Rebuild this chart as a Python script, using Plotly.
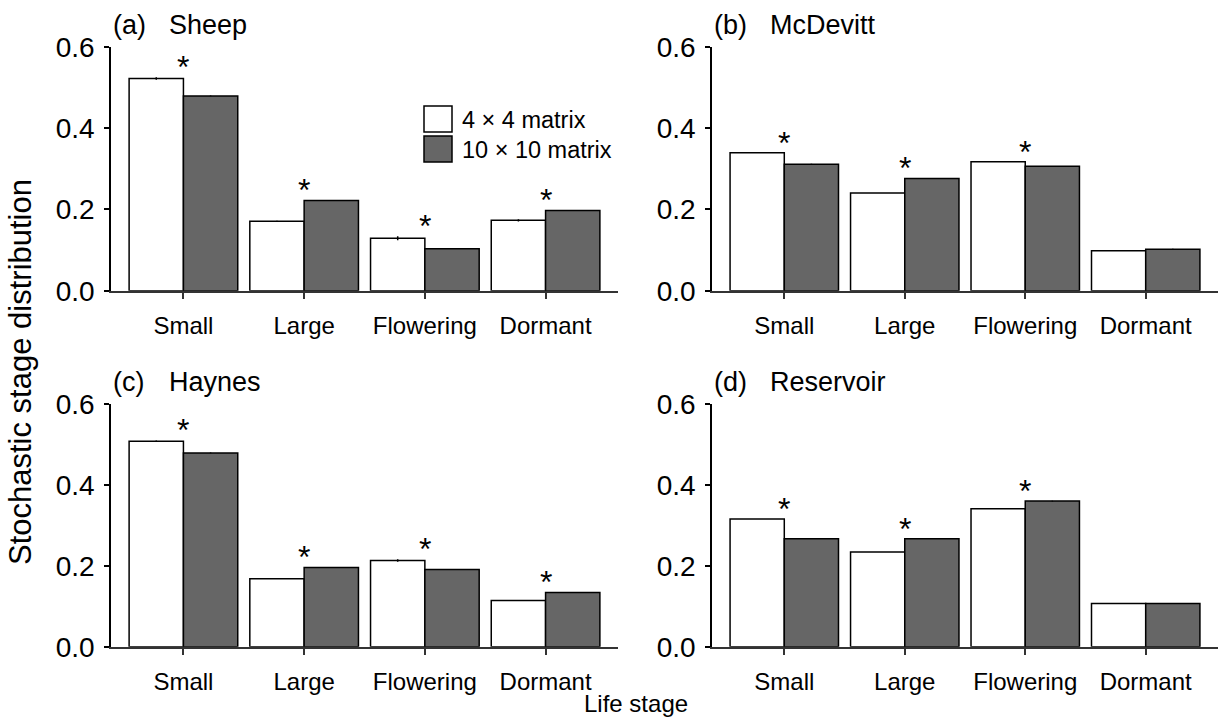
import plotly.graph_objects as go

W, H = 1219, 718

stages = ["Small", "Large", "Flowering", "Dormant"]
series_names = ["4 × 4 matrix", "10 × 10 matrix"]

panel_letters = ["(a)", "(b)", "(c)", "(d)"]
panel_names = ["Sheep", "McDevitt", "Haynes", "Reservoir"]

sheep_4x4 = [0.522, 0.171, 0.129, 0.173]
sheep_10x10 = [0.479, 0.222, 0.103, 0.197]
sheep_4x4_err = [0.003, 0.001, 0.005, 0.003]
sheep_10x10_err = [0.001, 0.0, 0.0, 0.0]
sheep_sig = [True, True, True, True]

mcdevitt_4x4 = [0.339, 0.240, 0.317, 0.098]
mcdevitt_10x10 = [0.311, 0.276, 0.306, 0.102]
mcdevitt_4x4_err = [0.0, 0.0, 0.0, 0.0]
mcdevitt_10x10_err = [0.001, 0.0, 0.0, 0.001]
mcdevitt_sig = [True, True, True, False]

haynes_4x4 = [0.508, 0.168, 0.213, 0.114]
haynes_10x10 = [0.479, 0.196, 0.191, 0.134]
haynes_4x4_err = [0.002, 0.0, 0.003, 0.0]
haynes_10x10_err = [0.001, 0.001, 0.001, 0.0]
haynes_sig = [True, True, True, True]

reservoir_4x4 = [0.316, 0.234, 0.341, 0.107]
reservoir_10x10 = [0.267, 0.267, 0.360, 0.107]
reservoir_4x4_err = [0.0, 0.0, 0.0, 0.0]
reservoir_10x10_err = [0.0, 0.0, 0.001, 0.0]
reservoir_sig = [True, True, True, False]

y_ticks = [0.0, 0.2, 0.4, 0.6]
y_tick_labels = ["0.0", "0.2", "0.4", "0.6"]

panels = [
    (sheep_4x4, sheep_10x10, sheep_4x4_err, sheep_10x10_err, sheep_sig),
    (mcdevitt_4x4, mcdevitt_10x10, mcdevitt_4x4_err, mcdevitt_10x10_err, mcdevitt_sig),
    (haynes_4x4, haynes_10x10, haynes_4x4_err, haynes_10x10_err, haynes_sig),
    (reservoir_4x4, reservoir_10x10, reservoir_4x4_err, reservoir_10x10_err, reservoir_sig),
]

FONT = "Arial, Liberation Sans, sans-serif"
FILLS = ["#ffffff", "#666666"]


def px(x):
    return x / W


def py(y):
    return 1 - y / H


# panel domains (pixel-derived)
x_doms = [(px(111), px(618)), (px(712), px(1218))]
y_doms = [(py(290.7), py(46.7)), (py(646.7), py(404))]

fig = go.Figure()
annotations = []

for i, (w_vals, d_vals, w_err, d_err, sig) in enumerate(panels):
    col = i % 2
    row = i // 2
    n = i + 1
    xa = "x" if n == 1 else f"x{n}"
    ya = "y" if n == 1 else f"y{n}"
    for s, (vals, errs) in enumerate([(w_vals, w_err), (d_vals, d_err)]):
        fig.add_trace(go.Bar(
            x=stages, y=vals, name=series_names[s],
            marker=dict(color=FILLS[s], line=dict(color="#000000", width=1.5)),
            error_y=dict(type="data", array=errs, visible=True, color="#000000",
                         thickness=1.5, width=0),
            offsetgroup=str(s), showlegend=False,
            xaxis=xa, yaxis=ya,
        ))
    # significance asterisks
    for k, st in enumerate(stages):
        if sig[k]:
            top = max(w_vals[k] + w_err[k], d_vals[k] + d_err[k])
            annotations.append(dict(
                x=st, y=top + 0.047, xref=xa, yref=ya, text="*", showarrow=False,
                font=dict(family=FONT, size=32, color="#000000"),
                xanchor="center", yanchor="middle", yshift=-9,
            ))
    # panel labels
    annotations.append(dict(
        x=x_doms[col][0], y=y_doms[row][1], xref="paper", yref="paper",
        text=panel_letters[i], showarrow=False, xanchor="left", yanchor="middle",
        yshift=22, xshift=0, font=dict(family=FONT, size=27, color="#000000"),
    ))
    annotations.append(dict(
        x=x_doms[col][0], y=y_doms[row][1], xref="paper", yref="paper",
        text=panel_names[i], showarrow=False, xanchor="left", yanchor="middle",
        yshift=22, xshift=56, font=dict(family=FONT, size=27, color="#000000"),
    ))

layout = dict(
    width=W, height=H,
    margin=dict(l=0, r=0, t=0, b=0),
    paper_bgcolor="#ffffff", plot_bgcolor="#ffffff",
    barmode="group", bargap=0.1, bargroupgap=0.0,
    font=dict(family=FONT, size=24, color="#000000"),
)

for i in range(4):
    col = i % 2
    row = i // 2
    n = i + 1
    xkey = "xaxis" if n == 1 else f"xaxis{n}"
    ykey = "yaxis" if n == 1 else f"yaxis{n}"
    ya = "y" if n == 1 else f"y{n}"
    xa = "x" if n == 1 else f"x{n}"
    layout[xkey] = dict(
        domain=list(x_doms[col]), anchor=ya, range=[-0.6, 3.6],
        showline=True, linecolor="#333333", linewidth=2,
        ticks="outside", ticklen=6, tickwidth=1.5, tickcolor="#333333",
        showgrid=False, zeroline=False, fixedrange=True,
        tickfont=dict(family=FONT, size=24, color="#000000"),
        ticklabelstandoff=6, automargin=False,
    )
    layout[ykey] = dict(
        domain=list(y_doms[row]), anchor=xa, range=[0, 0.6],
        tickvals=y_ticks, ticktext=y_tick_labels,
        showline=True, linecolor="#000000", linewidth=1.5,
        ticks="outside", ticklen=5, tickwidth=1.5, tickcolor="#000000",
        showgrid=False, zeroline=False, fixedrange=True,
        tickfont=dict(family=FONT, size=28, color="#000000"),
        ticklabelstandoff=4, automargin=False,
    )

# axis titles
annotations.append(dict(
    x=px(21), y=py(372), xref="paper", yref="paper",
    text="Stochastic stage distribution", showarrow=False, textangle=-90,
    xanchor="center", yanchor="middle",
    font=dict(family=FONT, size=31, color="#000000"),
))
annotations.append(dict(
    x=px(636), y=py(703), xref="paper", yref="paper",
    text="Life stage", showarrow=False, xanchor="center", yanchor="middle",
    font=dict(family=FONT, size=24, color="#000000"),
))

# manual legend (panel a)
shapes = []
legend_boxes = [(106, 132), (136, 162)]
for s in range(2):
    y0, y1 = legend_boxes[s]
    shapes.append(dict(
        type="rect", xref="paper", yref="paper",
        x0=px(424), x1=px(452), y0=py(y1), y1=py(y0),
        fillcolor=FILLS[s], line=dict(color="#000000", width=1.5),
    ))
    annotations.append(dict(
        x=px(460), y=py((y0 + y1) / 2 + 1), xref="paper", yref="paper",
        text=series_names[s], showarrow=False, xanchor="left", yanchor="middle",
        font=dict(family=FONT, size=23.5, color="#000000"),
    ))

layout["annotations"] = annotations
layout["shapes"] = shapes
fig.update_layout(**layout)

page_fix = (
    "document.documentElement.style.margin='0';"
    "document.documentElement.style.overflow='hidden';"
    "document.body.style.margin='0';"
    "document.body.style.overflow='hidden';"
)

fig.write_html("out.html", config={"displayModeBar": False}, post_script=page_fix)
